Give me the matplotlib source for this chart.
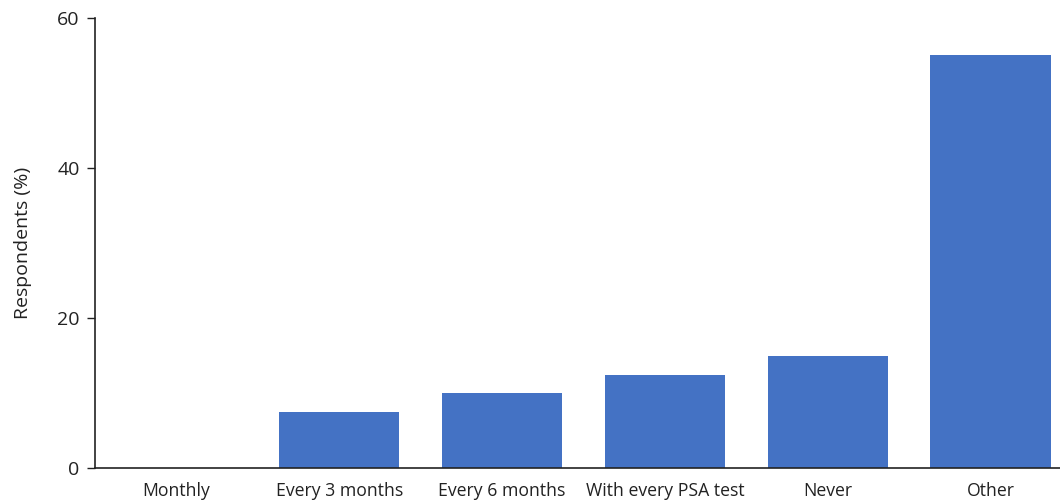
import matplotlib
matplotlib.use("Agg")
import matplotlib.pyplot as plt

categories = ["Monthly", "Every 3 months", "Every 6 months", "With every PSA test", "Never", "Other"]
values = [0, 7.4, 9.9, 12.4, 14.9, 55]

plt.rcParams["font.family"] = ["Open Sans", "DejaVu Sans"]

fig = plt.figure(figsize=(10.6, 5.04), dpi=100)
ax = fig.add_axes([95/1060, (504-467.7)/504, (1072-95)/1060, 450/504])

x = range(len(categories))
ax.bar(x, values, width=0.74, color="#4472C4")

ax.set_xlim(-0.5, 5.5)
ax.set_ylim(0, 60)
ax.set_yticks([0, 20, 40, 60])
ax.set_xticks(list(x))
ax.set_xticklabels(categories, fontsize=12.7, color="#222222")
ax.tick_params(axis="x", length=0, pad=10)
ax.tick_params(axis="y", length=6, width=1, color="#222222", labelsize=14, labelcolor="#222222", pad=5)
ax.set_ylabel("Respondents (%)", fontsize=14, color="#222222", labelpad=18)

for s in ["top", "right"]:
    ax.spines[s].set_visible(False)
for s in ["left", "bottom"]:
    ax.spines[s].set_color("#222222")
    ax.spines[s].set_linewidth(1.2)

fig.savefig("out.png", dpi=100)
